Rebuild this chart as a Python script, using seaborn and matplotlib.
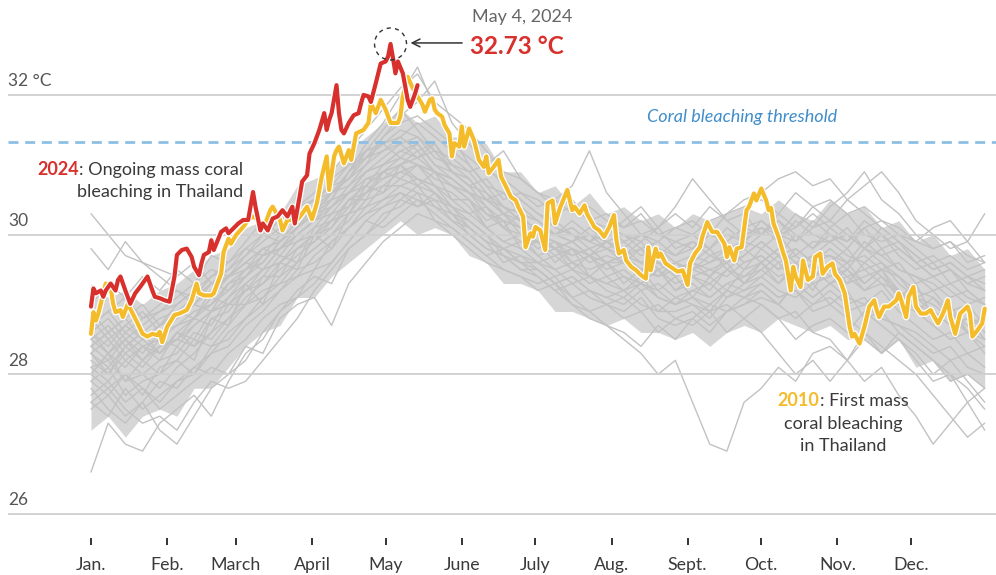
import matplotlib
matplotlib.use("Agg")
import matplotlib.pyplot as plt
import matplotlib.patheffects as pe
from matplotlib.patches import Ellipse
import pandas as pd
import seaborn as sns

# ---------------------------------------------------------------- data
# Month tick positions (day of year) and labels
month_days = [0, 31, 59, 90, 120, 151, 181, 212, 243, 273, 304, 334]
month_labels = ["Jan.", "Feb.", "March", "April", "May", "June",
                "July", "Aug.", "Sept.", "Oct.", "Nov.", "Dec."]
y_ticks = [26, 28, 30, 32]
y_tick_labels = ["26", "28", "30", "32 °C"]
threshold = 31.33

# Earlier years, weekly sea surface temperature (°C), sampled every 7 days
week_days = list(range(0, 365, 7))

# band where most earlier years pile up
band_low = [27.2,27.4,27.1,27.4,27.5, 27.4,27.8,27.8,28.1, 28.4,28.6,28.7,29.1, 29.1,29.4,29.6,29.8,30.0, 30.2,30.0,30.1,30.0, 29.7,29.6,29.3,29.3, 29.2,28.9,28.9,28.8,28.7, 28.8,28.6,28.6,28.5, 28.6,28.4,28.6,28.7, 28.6,28.8,28.7,28.6, 28.7,28.5,28.5,28.3,28.5, 28.1,28.2,27.9,28.0,27.8]
band_high = [29.3,29.1,29.2,29.0,29.2, 29.3,29.5,29.7,29.8, 30.1,30.2,30.3,30.7, 30.8,30.9,31.2,31.4,31.6, 31.8,31.6,31.7,31.4, 31.4,31.3,30.9,30.9, 30.6,30.7,30.4,30.6,30.3, 30.4,30.2,30.3,30.1, 30.3,30.2,30.3,30.4, 30.3,30.5,30.3,30.2, 30.5,30.3,30.4,30.1,30.2, 29.9,30.0,29.7,29.8,29.5]

past_01 = [27.6,27.4,27.8,27.5,27.7, 27.9,28.0,28.3,28.4, 28.7,28.9,29.2,29.4, 29.5,29.9,30.1,30.3,30.5, 30.6,30.4,30.5,30.2, 30.0,29.8,29.7,29.5, 29.4,29.2,29.3,29.1,29.0, 29.1,28.9,29.0,28.8, 28.9,28.7,28.9,29.0, 29.1,29.0,28.8,29.0, 29.1,28.9,29.0,28.8,28.7, 28.5,28.3,28.4,28.1,28.0]
past_02 = [28.7,28.9,28.6,28.8,28.9, 29.0,29.2,29.1,29.4, 29.6,29.8,29.9,30.1, 30.3,30.6,30.8,31.0,31.2, 31.3,31.1,31.2,30.9, 30.7,30.6,30.3,30.2, 30.1,30.0,29.9,30.0,29.8, 29.9,29.7,29.8,29.6, 29.7,29.6,29.8,29.9, 29.8,30.0,29.7,29.9, 29.9,30.0,29.8,29.7,29.8, 29.6,29.4,29.5,29.3,29.2]
past_03 = [28.0,28.3,27.9,28.2,28.0, 28.4,28.2,28.8,28.7, 29.3,29.0,29.6,29.5, 30.0,29.8,30.3,30.7,30.6, 31.0,30.7,30.9,30.5, 30.5,30.1,30.2,29.8, 29.9,29.6,29.8,29.4,29.6, 29.3,29.5,29.2,29.4, 29.1,29.4,29.2,29.5, 29.6,29.3,29.5,29.2, 29.6,29.3,29.4,29.5,29.1, 29.3,28.8,29.0,28.6,28.9]
past_04 = [26.6,27.3,27.0,26.9,27.3, 27.5,27.7,27.4,27.9, 28.3,28.5,28.9,29.1, 29.3,29.6,29.9,30.2,30.4, 30.5,30.7,30.4,30.3, 30.1,29.9,29.6,29.7, 29.5,29.3,29.4,29.2,29.1, 29.2,29.0,28.9,29.1, 29.0,28.8,29.1,29.2, 29.3,29.1,29.2,28.9, 29.0,29.2,28.8,28.9,28.6, 28.4,28.2,27.9,28.0,27.8]
past_05 = [30.3,30.0,29.7,29.6,29.5, 29.4,29.6,29.3,29.5, 29.8,30.0,29.9,30.2, 30.4,30.5,30.9,31.1,31.3, 31.5,31.4,31.1,31.0, 30.8,30.5,30.6,30.3, 30.2,30.0,30.1,29.9,29.8, 29.7,29.9,29.6,29.5, 29.6,29.8,29.5,29.7, 29.9,29.7,29.8,29.6, 29.8,29.6,29.9,29.7,29.5, 29.4,29.3,29.1,29.2,29.0]
past_06 = [28.4,28.2,28.5,28.3,28.6, 28.7,28.9,29.0,29.2, 29.4,29.7,29.8,30.1, 30.3,30.5,30.9,31.3,31.6, 32.0,32.4,31.8,31.4, 31.0,30.7,30.4,30.3, 30.0,29.8,29.9,29.7,29.6, 29.7,29.5,29.4,29.6, 29.4,29.5,29.6,29.3, 29.6,29.8,29.5,29.7, 29.7,29.5,29.8,29.6,29.4, 29.2,29.1,28.9,28.7,28.8]
past_07 = [27.8,27.5,27.3,27.6,27.2, 27.0,27.4,27.8,28.0, 28.2,28.6,28.9,29.2, 29.4,29.3,29.8,30.0,30.3, 30.4,30.6,30.2,30.0, 29.8,29.6,29.5,29.4, 29.3,29.4,29.1,29.2,29.0, 28.9,29.1,28.8,28.7, 28.8,29.0,28.9,29.1, 29.2,29.0,29.3,29.1, 29.3,29.1,29.0,29.2,28.9, 28.7,28.5,28.6,28.3,28.4]
past_08 = [28.3,28.0,28.4,28.2,28.5, 28.4,28.7,28.9,29.0, 29.2,29.4,29.7,29.6, 30.1,30.2,30.5,30.5,30.9, 31.0,30.8,30.7,30.4, 30.3,30.4,30.1,29.9, 29.9,29.8,29.7,29.8,29.6, 29.6,29.5,29.6,29.4, 29.5,29.6,29.7,29.8, 30.0,30.3,30.1,30.4, 30.2,30.5,30.3,30.1,29.9, 29.7,29.5,29.6,29.4,29.3]
past_09 = [28.1,27.9,28.2,28.0,27.8, 28.1,28.3,28.6,28.8, 29.0,29.2,29.3,29.6, 29.8,30.0,30.2,30.5,30.6, 30.8,30.7,30.6,30.3, 30.2,30.0,29.7,29.6, 29.5,29.3,29.0,28.8,28.7, 28.5,28.3,28.0,28.2, 27.6,27.0,26.9,27.6, 27.8,28.1,27.9,28.3, 28.4,28.2,28.6,28.3,28.5, 28.2,27.9,28.0,27.6,27.8]
past_10 = [28.6,28.4,28.7,28.5,28.3, 28.6,28.8,29.1,29.0, 29.3,29.5,29.6,29.9, 30.0,30.3,30.4,30.8,30.9, 31.1,31.0,30.9,30.8, 30.6,30.3,30.2,30.1, 30.0,29.9,29.8,29.7,29.9, 29.8,29.6,29.7,29.9, 29.8,30.0,29.9,30.1, 30.2,30.0,30.3,30.1, 30.4,30.6,30.9,30.5,30.3, 30.0,29.8,29.9,29.6,29.7]
past_11 = [27.9,28.1,27.7,27.9,28.0, 28.2,28.0,28.4,28.5, 28.8,29.1,29.3,29.4, 29.7,29.9,30.1,30.4,30.5, 30.7,30.6,30.5,30.4, 30.2,30.0,29.8,29.9, 29.7,29.5,29.6,29.4,29.3, 29.4,29.2,29.3,29.1, 29.2,29.3,29.1,29.3, 29.4,29.2,29.1,29.3, 29.0,28.8,28.6,28.4,28.2, 28.0,27.7,27.4,27.1,27.3]
past_12 = [28.5,28.7,28.4,28.6,28.8, 28.9,29.1,29.3,29.2, 29.5,29.7,29.8,30.0, 30.2,30.4,30.6,30.9,31.0, 31.2,31.3,31.0,30.9, 30.7,30.8,30.5,30.6, 30.4,30.5,30.7,31.2,30.6, 30.3,30.0,30.1,29.8, 29.9,29.7,29.8,29.6, 29.7,29.5,29.6,29.4, 29.6,29.4,29.5,29.3,29.2, 29.0,28.8,28.9,28.6,28.5]
past_13 = [27.7,27.9,27.6,27.8,27.5, 27.7,27.9,28.1,28.0, 28.4,28.3,28.8,29.0, 29.1,28.7,29.3,29.6,29.9, 30.1,30.3,30.2,30.1, 29.9,29.7,29.8,29.6, 29.6,29.4,29.5,29.3,29.4, 29.2,29.3,29.1,29.0, 29.2,29.1,29.3,29.2, 29.4,29.6,29.3,29.5, 29.3,29.5,29.2,29.4,29.1, 29.1,28.9,28.7,28.8,28.5]
past_14 = [28.2,28.0,28.3,28.1,28.4, 28.5,28.4,28.6,29.0, 29.0,29.4,29.4,29.8, 29.9,30.2,30.3,30.6,30.7, 30.9,31.0,30.7,30.6, 30.4,30.1,29.9,30.0, 29.7,29.8,29.5,29.7,29.4, 29.5,29.3,29.5,29.2, 29.4,29.2,29.5,29.3, 29.5,29.7,29.4,29.6, 29.4,29.6,29.3,29.5,29.4, 29.1,29.0,28.8,28.9,28.6]
past_15 = [29.0,29.3,29.1,29.4,29.2, 29.5,29.3,29.7,29.6, 29.9,30.2,30.0,30.4, 30.5,30.7,30.8,31.1,31.2, 31.4,31.2,31.3,31.0, 30.9,30.6,30.4,30.2, 30.0,29.8,29.9,29.7,29.8, 29.6,29.8,29.5,29.6, 29.5,29.7,29.6,29.8, 29.6,29.8,29.6,29.7, 29.9,29.7,29.6,29.8,29.5, 29.4,29.2,29.3,29.1,29.0]
past_16 = [28.0,27.8,28.0,27.7,28.1, 28.2,28.5,28.4,28.7, 29.0,29.1,29.4,29.6, 29.8,30.0,30.3,30.4,30.7, 30.7,30.8,30.6,30.4, 30.1,29.9,29.8,29.6, 29.4,29.2,29.0,28.9,28.7, 28.6,28.4,28.7,28.5, 28.8,28.6,28.9,29.0, 29.2,29.0,29.3,29.1, 29.3,29.4,29.2,29.3,29.0, 28.9,28.7,28.5,28.6,28.3]
past_17 = [28.4,28.6,28.3,28.5,28.7, 28.8,29.0,28.9,29.3, 29.5,29.6,29.9,30.1, 30.4,30.6,30.7,31.0,31.4, 31.7,31.9,32.2,31.6, 31.3,31.0,30.7,30.5, 30.3,30.1,30.0,29.8,29.9, 29.7,29.8,29.6,29.5, 29.6,29.4,29.7,29.5, 29.8,29.6,29.7,29.5, 29.6,29.8,29.5,29.6,29.3, 29.1,29.2,28.9,29.0,28.7]
past_18 = [27.5,27.7,27.4,27.6,27.9, 27.8,28.1,28.0,28.3, 28.5,28.8,29.0,29.1, 29.5,29.6,29.9,30.2,30.1, 30.3,30.5,30.3,30.1, 29.9,29.7,29.5,29.4, 29.2,29.3,29.1,28.9,29.0, 28.8,28.9,28.6,28.8, 28.7,28.9,28.6,28.8, 29.0,28.8,28.5,28.7, 28.8,28.6,28.9,28.7,28.5, 28.3,28.0,28.2,27.9,27.6]
past_19 = [28.3,28.5,28.2,28.4,28.3, 28.6,28.4,28.8,28.9, 29.2,29.3,29.6,29.8, 30.0,30.1,30.5,30.6,30.9, 30.8,31.0,30.8,30.7, 30.5,30.3,30.1,30.0, 29.9,29.7,29.8,29.6,29.7, 29.6,29.5,29.4,29.6, 29.5,29.4,29.6,29.7, 29.9,29.7,30.0,29.8, 30.0,29.8,30.1,30.2,30.0, 29.9,30.1,30.2,29.9,30.3]
past_20 = [28.6,28.3,28.5,28.2,28.4, 28.5,28.7,28.9,29.1, 29.4,29.6,29.9,30.2, 30.4,30.8,31.0,31.2,31.3, 31.1,31.0,30.9,30.7, 30.5,30.2,30.3,30.0, 29.8,29.9,29.6,29.5,29.6, 29.4,29.3,29.5,29.2, 29.3,29.1,29.3,29.4, 29.5,29.3,29.6,29.4, 29.5,29.3,29.6,29.4,29.2, 28.9,29.1,28.8,28.6,28.4]
past_21 = [27.6,27.8,27.5,27.3,27.4, 27.2,27.6,27.9,27.8, 27.9,28.2,28.5,28.8, 29.2,29.5,29.8,30.0,30.2, 30.5,30.4,30.6,30.3, 30.0,29.8,29.7,29.5, 29.5,29.3,29.4,29.2,29.1, 29.0,29.2,28.9,28.9, 29.0,28.9,29.2,29.1, 29.3,29.1,29.2,29.0, 29.2,29.0,29.1,28.8,28.7, 28.6,28.4,28.2,28.3,28.1]
past_22 = [28.8,28.5,28.7,28.9,28.6, 28.8,29.0,29.2,29.4, 29.6,29.5,29.8,30.0, 30.2,30.3,30.6,30.8,30.8, 31.0,31.1,30.9,30.8, 30.6,30.5,30.3,30.1, 30.0,29.9,29.7,29.8,29.6, 29.7,29.6,29.4,29.5, 29.6,29.5,29.4,29.6, 29.7,29.5,29.8,29.6, 29.7,29.6,29.7,29.5,29.6, 29.3,29.4,29.2,29.0,29.1]
past_23 = [28.1,28.2,27.9,28.0,28.2, 28.3,28.6,28.5,28.8, 29.1,29.3,29.5,29.7, 29.9,30.1,30.4,30.6,30.8, 30.9,30.8,30.7,30.5, 30.3,30.1,29.9,29.8, 29.6,29.7,29.5,29.4,29.3, 29.2,29.4,29.1,29.0, 29.1,28.9,29.0,28.8, 28.6,28.3,28.0,28.2, 27.9,28.2,28.5,28.3,28.6, 28.4,28.2,28.0,27.8,27.5]
past_24 = [28.5,28.3,28.6,28.4,28.5, 28.7,28.8,29.0,29.3, 29.4,29.7,29.8,30.1, 30.3,30.6,30.9,31.2,31.5, 31.8,31.5,31.2,30.9, 30.7,30.4,30.2,30.1, 29.9,29.8,29.6,29.7,29.5, 29.6,29.4,29.5,29.3, 29.4,29.3,29.5,29.4, 29.6,29.4,29.5,29.3, 29.4,29.5,29.3,29.5,29.2, 29.0,28.9,28.7,28.8,28.5]
past_25 = [28.9,28.6,28.8,29.0,28.7, 29.0,29.2,29.4,29.5, 29.7,29.9,30.1,30.3, 30.5,30.7,31.0,31.1,31.4, 31.6,31.7,31.5,31.3, 31.1,30.9,30.8,30.6, 30.5,30.3,30.4,30.2,30.3, 30.1,30.2,30.0,30.1, 30.2,30.0,30.3,30.4, 30.5,30.3,30.6,30.4, 30.5,30.3,30.4,30.2,30.1, 29.9,29.8,29.9,29.7,29.6]
past_26 = [28.4,28.6,28.8,28.5,28.7, 28.9,28.8,29.2,29.4, 29.6,29.8,29.7,30.0, 30.2,30.5,30.6,30.9,31.1, 31.3,31.4,31.2,31.1, 30.9,31.0,31.2,30.8, 30.6,30.4,30.5,30.2,30.1, 30.0,29.9,30.1,30.4, 30.8,30.5,30.2,30.0, 30.1,29.9,30.2,30.0, 29.9,30.1,29.8,30.0,29.7, 29.5,29.6,29.3,29.4,29.2]
past_27 = [28.3,28.1,28.4,28.6,28.3, 28.5,28.8,28.7,29.1, 29.3,29.5,29.8,29.9, 30.1,30.4,30.6,30.7,31.0, 31.2,31.1,31.3,30.9, 30.8,30.5,30.4,30.2, 30.1,30.0,29.9,30.1,29.9, 29.8,30.0,29.9,30.1, 30.0,30.2,30.3,30.5, 30.6,30.8,30.9,30.7, 30.8,30.5,30.7,30.9,30.6, 30.2,30.0,29.8,29.9,29.6]
past_28 = [28.7,28.9,29.1,28.8,29.0, 29.2,29.1,29.4,29.6, 29.8,29.7,30.0,30.3, 30.5,30.6,30.8,31.2,31.3, 31.4,31.6,31.4,31.2, 31.0,30.7,30.6,30.5, 30.3,30.2,30.0,29.9,30.1, 29.9,30.0,29.8,29.7, 29.9,29.8,30.0,29.9, 30.1,30.0,29.9,30.2, 30.0,29.9,30.1,29.8,29.9, 29.7,29.5,29.6,29.4,29.5]
past_29 = [29.8,29.5,29.9,29.6,29.4, 29.2,29.0,29.3,29.4, 29.5,29.8,29.9,30.1, 30.3,30.4,30.7,30.9,31.0, 31.1,31.3,31.0,30.8, 30.6,30.5,30.3,30.4, 30.2,30.0,30.2,30.0,29.9, 30.0,29.8,29.9,29.7, 29.8,30.0,29.9,30.1, 30.0,30.2,30.0,29.8, 30.1,29.9,30.2,30.0,29.8, 29.6,29.7,29.5,29.3,29.4]
past_30 = [28.6,28.8,28.5,28.7,28.9, 29.1,29.3,29.5,29.4, 29.7,30.0,30.2,30.4, 30.6,30.9,31.2,31.5,31.8, 32.1,32.3,31.9,31.7, 31.5,31.2,30.9,30.8, 30.6,30.5,30.3,30.4,30.2, 30.1,30.3,30.0,29.9, 30.0,29.8,30.1,29.9, 30.2,30.0,30.1,30.3, 30.1,30.3,30.0,29.9,30.0, 29.8,29.6,29.7,29.5,29.6]
past_31 = [27.9,27.7,28.0,27.8,27.6, 27.9,28.1,28.3,28.6, 28.8,29.0,29.2,29.5, 29.6,29.8,30.1,30.3,30.4, 30.6,30.5,30.4,30.2, 30.1,29.9,29.8,29.7, 29.6,29.5,29.3,29.4,29.2, 29.1,29.3,29.2,29.0, 29.1,29.0,29.2,29.1, 29.0,28.8,28.9,28.6, 28.5,28.2,27.9,28.1,27.7, 27.4,27.0,27.3,27.6,27.2]
past_32 = [28.0,28.3,28.1,28.4,28.2, 28.6,28.5,28.9,29.0, 29.2,29.5,29.6,29.8, 30.0,30.2,30.5,30.7,30.9, 31.0,31.2,30.9,30.7, 30.6,30.4,30.1,30.3, 30.2,30.0,30.1,29.9,30.0, 30.2,30.4,30.1,30.3, 30.1,30.4,30.2,30.3, 30.0,30.2,29.9,30.1, 30.2,30.0,29.8,30.1,29.9, 29.6,29.4,29.5,29.2,29.0]
past_years = [past_01, past_02, past_03, past_04, past_05, past_06, past_07, past_08,
              past_09, past_10, past_11, past_12, past_13, past_14, past_15, past_16,
              past_17, past_18, past_19, past_20, past_21, past_22, past_23, past_24,
              past_25, past_26, past_27, past_28, past_29, past_30, past_31, past_32]

# 2010: first mass coral bleaching in Thailand
days_2010 = [0,1,2,3,5,6,8,9,10,12,13,15,17,19,21,23,25,27,28,29,31,34,36,39,41,43,44,46,49,50,
             53,54,56,57,59,62,64,66,69,71,73,74,77,78,80,82,84,86,88,90,92,94,96,97,98,99,100,101,103,105,
             106,108,111,113,114,116,118,120,122,125,126,127,129,131,133,135,136,138,139,140,141,143,144,146,147,148,150,151,152,154,
             156,158,160,161,162,164,166,167,169,171,173,174,176,177,179,180,181,183,185,186,188,189,191,194,196,197,199,201,202,205,
             207,209,211,213,214,215,217,218,220,222,224,226,227,228,230,231,232,234,236,239,241,243,244,246,248,249,251,253,255,258,
             259,260,262,263,265,267,268,270,271,273,275,276,277,278,280,282,283,285,286,287,289,290,292,294,295,297,298,300,302,303,
             305,307,309,310,311,313,315,317,319,320,321,323,325,328,329,330,332,333,335,336,338,340,342,343,345,347,349,350,352,354,
             357,358,359,361,363,364]
sst_2010 = [28.58,28.89,28.77,28.87,29.16,29.30,29.25,29.01,28.89,28.92,28.82,29.01,28.87,28.73,28.58,28.54,28.58,28.56,28.61,28.46,
            28.68,28.85,28.87,28.92,29.06,29.30,29.16,29.13,29.13,29.16,29.44,29.75,29.94,29.87,29.99,30.11,30.21,30.26,30.18,30.16,
            30.35,30.40,30.21,30.06,30.21,30.21,30.21,30.30,30.40,30.22,30.45,30.83,31.12,30.64,30.88,31.12,31.21,31.26,31.02,31.21,
            31.07,31.45,31.50,31.60,31.88,31.74,31.93,31.79,31.60,31.60,31.69,31.98,32.26,32.10,31.98,31.86,31.76,31.93,31.95,31.79,
            31.74,31.69,31.57,31.45,31.12,31.31,31.26,31.55,31.26,31.52,31.35,31.07,30.97,31.12,30.88,30.97,31.07,30.83,30.69,30.54,
            30.49,30.40,30.26,29.82,30.02,29.97,30.11,30.06,29.78,30.45,30.49,30.16,30.38,30.64,30.35,30.40,30.30,30.42,30.30,30.11,
            30.06,29.97,30.10,30.28,29.92,29.73,29.78,29.63,29.54,29.49,29.42,29.37,29.82,29.49,29.80,29.68,29.73,29.59,29.54,29.47,
            29.49,29.28,29.59,29.73,29.82,29.97,30.18,30.04,30.04,29.87,29.68,29.82,29.63,29.80,29.82,30.35,30.40,30.59,30.49,30.66,
            30.49,30.35,30.38,30.16,29.97,29.73,29.63,29.20,29.54,29.40,29.25,29.63,29.35,29.40,29.68,29.73,29.44,29.54,29.59,29.44,
            29.35,29.16,28.68,28.54,28.58,28.44,28.68,28.97,29.06,28.92,28.82,28.97,28.97,29.06,29.16,29.06,28.82,29.11,29.25,28.97,
            28.87,28.87,28.92,28.85,28.73,28.87,29.06,28.82,28.58,28.87,28.97,28.87,28.54,28.63,28.73,28.94]

# 2024: ongoing mass coral bleaching, record on May 4
days_2024 = [0,1,2,4,5,6,8,10,11,12,14,16,18,20,22,23,25,26,28,30,32,34,35,37,39,41,42,44,45,46,
             48,49,50,53,55,56,58,60,62,64,66,67,69,70,72,74,76,78,80,82,83,85,86,88,89,91,93,95,96,97,
             98,100,101,102,103,105,107,109,110,111,113,114,116,117,118,120,121,122,123,124,125,127,128,129,130,132,133]
sst_2024 = [28.97,29.23,29.16,29.20,29.11,29.20,29.30,29.20,29.35,29.40,29.20,29.01,29.16,29.25,29.35,29.40,29.20,29.11,29.09,29.06,
            29.04,29.40,29.71,29.78,29.80,29.68,29.54,29.42,29.59,29.71,29.75,29.92,29.78,30.04,30.09,30.02,30.09,30.16,30.21,30.21,
            30.61,30.40,30.06,30.16,30.06,30.23,30.26,30.35,30.26,30.40,30.16,30.55,30.76,30.85,31.16,31.31,31.50,31.74,31.50,31.64,
            31.74,32.14,31.74,31.50,31.45,31.60,31.71,31.74,31.88,32.00,31.98,31.90,32.17,32.31,32.45,32.48,32.55,32.73,32.53,32.31,
            32.48,32.31,32.12,31.93,31.83,32.02,32.14]
peak_day = 122
peak_value = 32.73

# ---------------------------------------------------------------- style
RED = "#d8302c"
YELLOW = "#f4bc2b"
GREY_LINE = "#c2c2c2"
GREY_BAND = "#d6d6d6"
GRID = "#cfcfcf"
TEXT = "#3a3a3a"
BLUE_LINE = "#8dbfe5"
BLUE_TEXT = "#3f8dca"
FS = 13

sns.set_theme(style="white")
plt.rcParams["font.family"] = ["Lato", "DejaVu Sans"]

W, H = 996, 575
fig = plt.figure(figsize=(W / 100, H / 100), dpi=100)
ax = fig.add_axes([8 / W, 37 / H, 988 / W, 538 / H])
ax.set_xlim(-33.8, 368.6)
ax.set_ylim(25.656, 33.36)

# earlier years: the crowded band plus the individual years
ax.fill_between(week_days, band_low, band_high, color=GREY_BAND, lw=0, zorder=0.5)
grey_df = pd.DataFrame({
    "day": [d for _ in past_years for d in week_days],
    "sst": [v for series in past_years for v in series],
    "year": [i for i, series in enumerate(past_years) for _ in series],
})
sns.lineplot(data=grey_df, x="day", y="sst", units="year", estimator=None,
             color=GREY_LINE, lw=1.0, ax=ax, zorder=1, legend=False)

# horizontal grid
for v, lab in zip(y_ticks, y_tick_labels):
    ax.axhline(v, color=GRID, lw=1.3, zorder=2)
    ax.annotate(lab, xy=(0, v), xycoords=("axes fraction", "data"),
                xytext=(0, 4), textcoords="offset points", ha="left", va="bottom",
                fontsize=12.5, color="#555555")

# bleaching threshold
ax.axhline(threshold, color=BLUE_LINE, lw=2.0, dashes=(3.6, 2.4), zorder=2)
ax.text(265, 31.68, "Coral bleaching threshold", ha="center", va="center",
        fontsize=FS, style="italic", color=BLUE_TEXT)

outline = [pe.Stroke(linewidth=4.8, foreground="white"), pe.Normal()]
df_2010 = pd.DataFrame({"day": days_2010, "sst": sst_2010})
df_2024 = pd.DataFrame({"day": days_2024, "sst": sst_2024})
sns.lineplot(data=df_2010, x="day", y="sst", color=YELLOW, lw=3.0, ax=ax, zorder=4,
             estimator=None)
ax.lines[-1].set_path_effects(outline)
sns.lineplot(data=df_2024, x="day", y="sst", color=RED, lw=3.0, ax=ax, zorder=5,
             estimator=None)
ax.lines[-1].set_path_effects(outline)

# record marker
circle = Ellipse((peak_day, peak_value), width=2 * 16 / 2.455, height=2 * 16 / 69.83,
                 fill=False, ec="#333333", lw=1.0, ls=(0, (3, 3)), zorder=6)
ax.add_patch(circle)
ax.annotate("", xy=(129.0, 32.745), xytext=(152.3, 32.745),
            arrowprops=dict(arrowstyle="->", color="#333333", lw=1.1,
                            mutation_scale=14), zorder=6)
ax.text(155.2, 33.12, "May 4, 2024", ha="left", va="center", fontsize=FS, color="#666666")
ax.text(154.4, 32.70, f"{peak_value:.2f} °C", ha="left", va="center", fontsize=17.5,
        weight="bold", color=RED)

# axis ticks
ax.set_xticks(month_days)
ax.set_xticklabels(month_labels)
ax.set_yticks([])
ax.tick_params(axis="x", length=5, width=1.4, color="#333333", labelsize=12.8,
               labelcolor=TEXT, pad=9, bottom=True)
for s in ax.spines.values():
    s.set_visible(False)
ax.set_xlabel("")
ax.set_ylabel("")

renderer = fig.canvas.get_renderer()
inv = ax.transData.inverted()


def text_width(t):
    return t.get_window_extent(renderer).width


# 2024 note, right aligned
rest = ax.text(61.9, 30.93, ": Ongoing mass coral", ha="right", va="center",
               fontsize=FS, color=TEXT)
x0 = rest.get_window_extent(renderer).x0
xd = inv.transform((x0, 0))[0]
ax.text(xd, 30.93, "2024", ha="right", va="center", fontsize=FS, weight="bold", color=RED)
ax.text(61.9, 30.61, "bleaching in Thailand", ha="right", va="center", fontsize=FS, color=TEXT)

# 2010 note, centred
cx = 306.3
bold = ax.text(0, 27.62, "2010", ha="left", va="center", fontsize=FS, weight="bold",
               color=YELLOW)
tail = ax.text(0, 27.62, ": First mass", ha="left", va="center", fontsize=FS, color=TEXT)
w1, w2 = text_width(bold), text_width(tail)
cx_px = ax.transData.transform((cx, 0))[0]
left_px = cx_px - (w1 + w2) / 2
bold.set_x(inv.transform((left_px, 0))[0])
tail.set_x(inv.transform((left_px + w1, 0))[0])
ax.text(cx, 27.29, "coral bleaching", ha="center", va="center", fontsize=FS, color=TEXT)
ax.text(cx, 26.97, "in Thailand", ha="center", va="center", fontsize=FS, color=TEXT)

fig.savefig("out.png", dpi=100, facecolor="white")
